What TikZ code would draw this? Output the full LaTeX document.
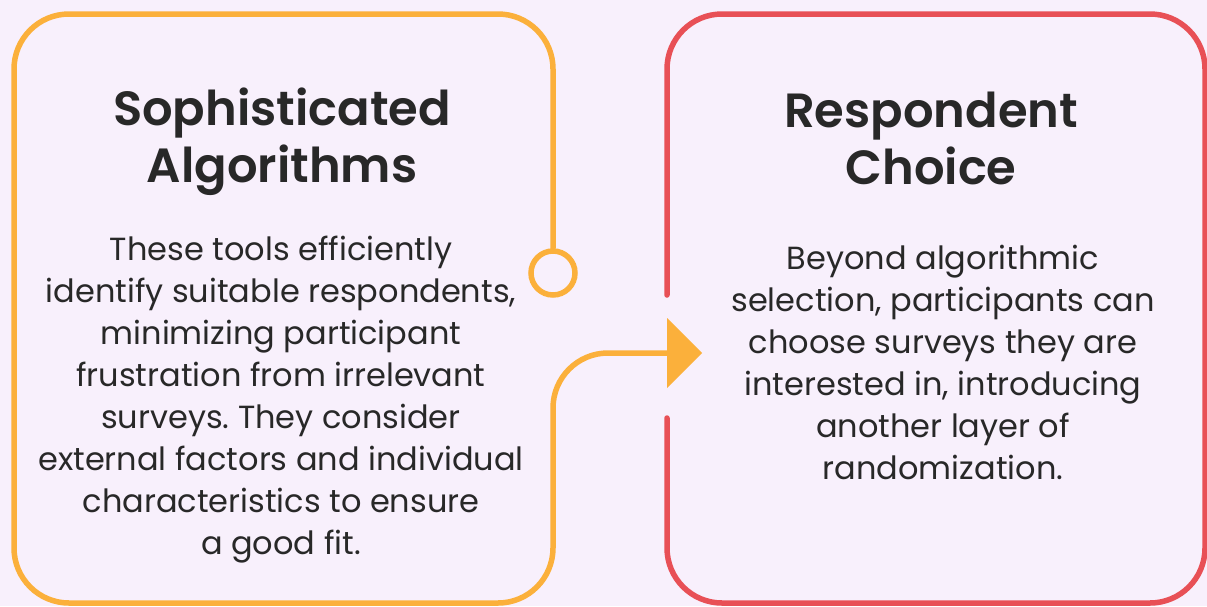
\documentclass[tikz,border=0pt]{standalone}
\usepackage{fontspec}
\setmainfont{Poppins}[BoldFont={Poppins SemiBold}]
\usetikzlibrary{calc}
\frenchspacing
\definecolor{bgcol}{RGB}{248,240,252}
\definecolor{orangeline}{RGB}{251,176,59}
\definecolor{redline}{RGB}{232,80,86}
\definecolor{inkcol}{RGB}{40,40,40}
\tikzset{
  titletext/.style={align=center,inner sep=0pt,anchor=north,text=inkcol,
    font=\fontsize{48}{57}\selectfont\bfseries},
  bodytext/.style={align=center,inner sep=0pt,anchor=north,text=inkcol,
    font=\fontsize{32}{42}\selectfont},
  boxline/.style={line width=5.5pt,line cap=round,rounded corners=55pt},
}
\begin{document}
\begin{tikzpicture}[x=1pt,y=-1pt]
    \fill[bgcol] (0,0) rectangle (1207,606);
    \useasboundingbox (0,0) rectangle (1207,606);
    %
    \coordinate (circtop) at (553,248);
    \coordinate (circ) at (553,273);
    \coordinate (arrowbase) at (667,353);
    \coordinate (arrowtip) at (702,353);
    %
    \draw[boxline,orangeline] (circtop) -- (553,14) -- (14,14) -- (14,603)
        -- (553,603) -- (553,353) -- (arrowbase);
    \draw[orangeline,line width=5.5pt] (circ) circle (22pt);
    \fill[orangeline] ($(arrowbase)+(0,-35)$) -- (arrowtip) -- ($(arrowbase)+(0,35)$) -- cycle;
    %
    \draw[boxline,redline] (667,295) -- (667,14) -- (1205,14) -- (1205,603)
        -- (667,603) -- (667,418);
    %
    \node[titletext] (algotitle) at (282,88) {Sophisticated\\Algorithms};
    \node[bodytext] (algobody) at (281,236) {These tools efficiently\\
        identify suitable respondents,\\ minimizing participant\\
        frustration from irrelevant\\ surveys. They consider\\
        external factors and individual\\ characteristics to ensure\\ a good fit.};
    %
    \node[titletext] (choicetitle) at (931,92) {Respondent\\Choice};
    \node[bodytext] (choicebody) at (943,245) {Beyond algorithmic\\
        selection, participants can\\ choose surveys they are\\
        interested in, introducing\\ another layer of\\ randomization.};
\end{tikzpicture}
\end{document}
